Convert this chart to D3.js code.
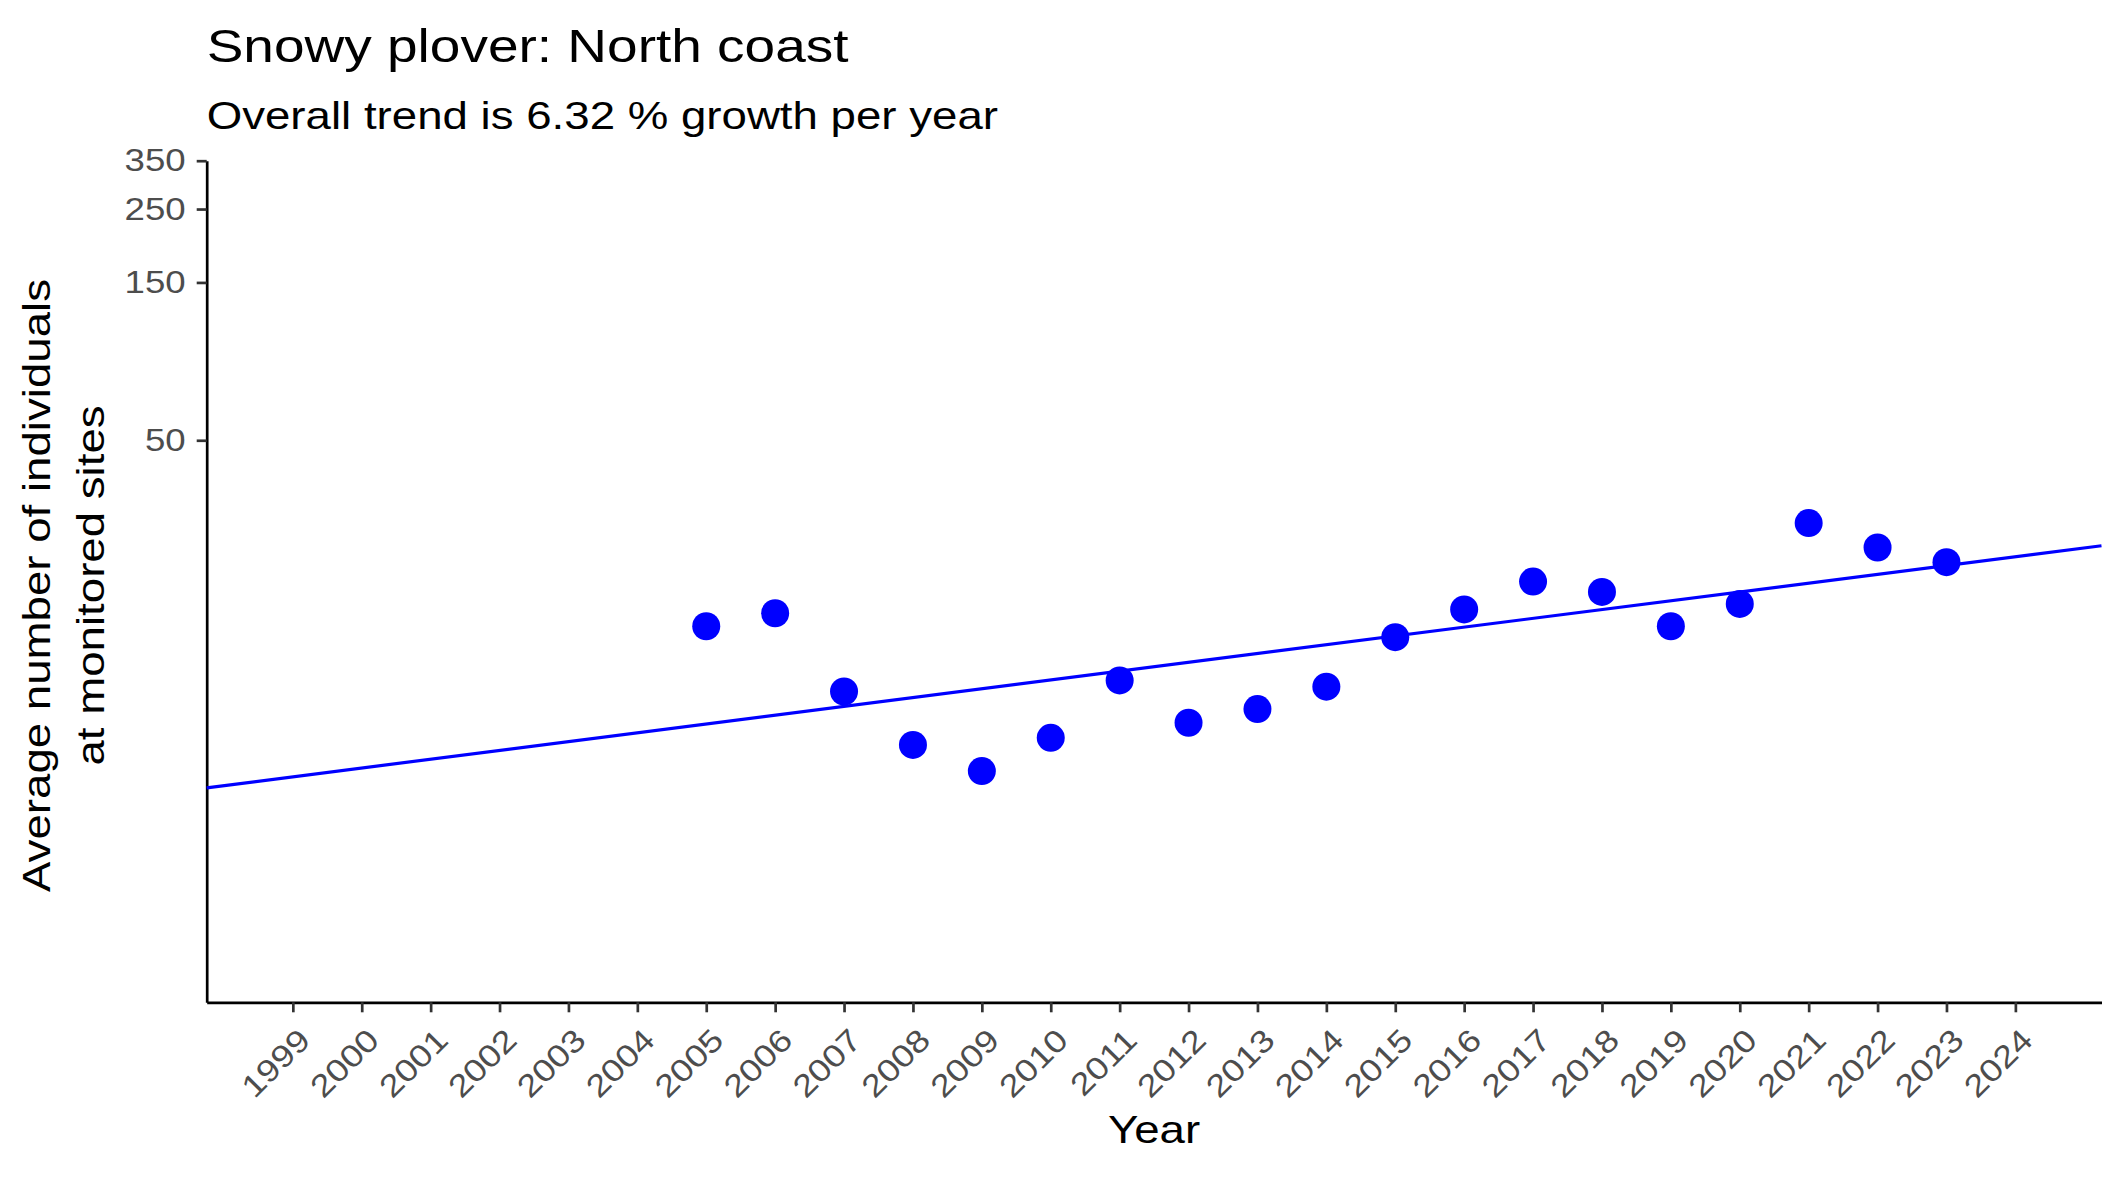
<!DOCTYPE html>
<html>
<head>
<meta charset="utf-8">
<script src="https://cdn.jsdelivr.net/npm/d3@7"></script>
<style>
  body { margin: 0; background: #fff; }
  svg text { font-family: "Liberation Sans", Arial, sans-serif; }
</style>
</head>
<body>
<div id="chart"></div>
<script>
// data
var years = [2005, 2006, 2007, 2008, 2009, 2010, 2011, 2012, 2013, 2014,
             2015, 2016, 2017, 2018, 2019, 2020, 2021, 2022, 2023];
var counts = [13.7, 15.0, 8.7, 6.0, 5.0, 6.3, 9.4, 7.0, 7.7, 9.0,
              12.7, 15.4, 18.7, 17.4, 13.7, 16.0, 28.1, 23.7, 21.4];
var trendYears = [1997.75, 2025.25];
var trendValues = [4.45, 24.0];
var xTicks = d3.range(1999, 2025);
var yTicks = [50, 150, 250, 350];

var width = 2125, height = 1181;
var margin = { top: 160.7, right: 23.5, bottom: 178.7, left: 206.7 };
var stretch = 1.17; // reference glyphs are drawn wider than Arial

var svg = d3.select("#chart")
    .append("svg")
    .attr("width", width)
    .attr("height", height);

var x = d3.scaleLinear()
    .domain([1997.75, 2025.25])
    .range([margin.left, width - margin.right]);

var y = d3.scaleLog()
    .domain([1, 350])
    .range([height - margin.bottom, margin.top]);

// titles
svg.append("text")
    .attr("x", margin.left)
    .attr("y", 62)
    .style("font-size", "47px")
    .style("fill", "#000")
    .text("Snowy plover: North coast");

svg.append("text")
    .attr("x", margin.left)
    .attr("y", 129)
    .style("font-size", "39px")
    .style("fill", "#000")
    .text("Overall trend is 6.32 % growth per year");

// y axis
var yAxis = svg.append("g")
    .attr("transform", "translate(" + margin.left + ",0)")
    .call(d3.axisLeft(y).tickValues(yTicks).tickFormat(d3.format("d"))
        .tickSize(10).tickSizeOuter(0).tickPadding(11));

// x axis
var xAxis = svg.append("g")
    .attr("transform", "translate(0," + (height - margin.bottom) + ")")
    .call(d3.axisBottom(x).tickValues(xTicks).tickFormat(d3.format("d"))
        .tickSize(10).tickSizeOuter(0));

[yAxis, xAxis].forEach(function (ax) {
    ax.select(".domain").attr("stroke", "#000").attr("stroke-width", 2.7);
    ax.selectAll(".tick line").attr("stroke", "#333333").attr("stroke-width", 2.7);
    ax.selectAll(".tick text")
        .style("font-size", "31.3px")
        .style("fill", "#4D4D4D")
        .style("font-family", "Liberation Sans, Arial, sans-serif");
});

xAxis.selectAll(".tick text")
    .attr("text-anchor", "end")
    .attr("x", 0)
    .attr("y", 0)
    .attr("dy", "0.71em")
    .attr("transform", "translate(3,24) rotate(-45)");

// axis titles
svg.append("text")
    .attr("x", (margin.left + width - margin.right) / 2)
    .attr("y", 1143)
    .attr("text-anchor", "middle")
    .style("font-size", "39px")
    .text("Year");

var yTitle = svg.append("text")
    .attr("transform", "translate(50," + ((margin.top + height - margin.bottom) / 2 + 4) + ") rotate(-90)")
    .attr("text-anchor", "middle")
    .style("font-size", "39px");
yTitle.append("tspan").attr("x", 0).attr("y", 0).text("Average number of individuals");
yTitle.append("tspan").attr("x", 0).attr("y", 54).text("at monitored sites");

// widen every label to the reference's glyph width
svg.selectAll("text").each(function () {
    var tspans = this.querySelectorAll("tspan");
    var nodes = tspans.length ? Array.from(tspans) : [this];
    nodes.forEach(function (n) {
        var len = n.getComputedTextLength();
        n.setAttribute("textLength", len * stretch);
        n.setAttribute("lengthAdjust", "spacingAndGlyphs");
    });
});

// trend line
var line = d3.line()
    .x(function (d, i) { return x(trendYears[i]); })
    .y(function (d) { return y(d); });

svg.append("path")
    .datum(trendValues)
    .attr("d", line)
    .attr("fill", "none")
    .attr("stroke", "#0000FF")
    .attr("stroke-width", 3.2);

// points
svg.selectAll(".pt")
    .data(years)
    .join("circle")
    .attr("class", "pt")
    .attr("cx", function (d) { return x(d); })
    .attr("cy", function (d, i) { return y(counts[i]); })
    .attr("r", 14)
    .attr("fill", "#0000FF");
</script>
</body>
</html>
